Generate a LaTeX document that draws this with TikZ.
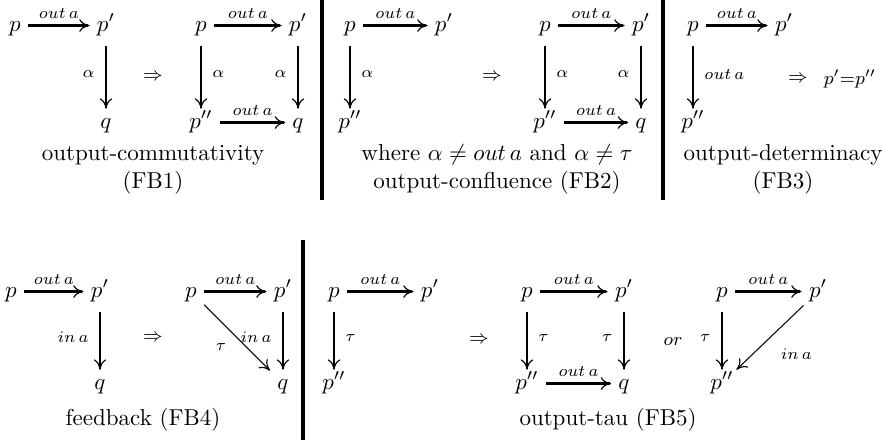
\documentclass[tikz,border=0pt]{standalone}
\usetikzlibrary{arrows.meta}
\begin{document}
\begin{tikzpicture}[x=0.4348pt,y=-0.4348pt,
  st/.style={anchor=base, inner xsep=3pt, inner ysep=1.3pt, text height=1.6ex, text depth=0.5ex},
  tipcm/.tip={Computer Modern Rightarrow[length=4.5pt,width=5.5pt,line width=0.5pt]},
  ar/.style={line width=0.95pt, -tipcm},
  dn/.style={ar, shorten <=3pt},
  dg/.style={line width=0.45pt, -tipcm},
  lab/.style={font=\fontsize{7.5}{9}\selectfont, inner sep=1.5pt},
  toplab/.style={lab, above=1.2pt},
  imp/.style={font=\footnotesize},
  captxt/.style={anchor=base, inner sep=0pt},
  sepbar/.style={line width=1.5pt}]
\path[use as bounding box] (0,0) rectangle (883,440);
% ---------- FB1 ----------
\node[st] (p1) at (15,31) {$p$};
\node[st] (pp1) at (106,31) {$p'$};
\node[st] (q1) at (106,128) {$q$};
\draw[ar] (p1) -- node[toplab] {$out\,a$} (pp1);
\draw[dn] (pp1) -- node[left=3pt,lab] {$\alpha$} (q1);
\node[imp] (i1) at (153,77) {$\Rightarrow$};
\node[st] (p2) at (201,31) {$p$};
\node[st] (pp2) at (298,31) {$p'$};
\node[st] (ppp2) at (201,128) {$p''$};
\node[st] (q2) at (298,128) {$q$};
\draw[ar] (p2) -- node[toplab] {$out\,a$} (pp2);
\draw[dn] (p2) -- node[right=3pt,lab] {$\alpha$} (ppp2);
\draw[dn] (pp2) -- node[left=3pt,lab] {$\alpha$} (q2);
\draw[ar] (ppp2) -- node[toplab] {$out\,a$} (q2);
\node[captxt] (c1a) at (153,160) {output-commutativity};
\node[captxt] (c1b) at (153,188) {(FB1)};
\coordinate (b1t) at (322,0);
\coordinate (b1b) at (322,200);
\draw[sepbar] (b1t) -- (b1b);
% ---------- FB2 ----------
\node[st] (p3) at (350,31) {$p$};
\node[st] (pp3) at (444,31) {$p'$};
\node[st] (ppp3) at (350,128) {$p''$};
\draw[ar] (p3) -- node[toplab] {$out\,a$} (pp3);
\draw[dn] (p3) -- node[right=3pt,lab] {$\alpha$} (ppp3);
\node[imp] (i2) at (492,77) {$\Rightarrow$};
\node[st] (p4) at (545,31) {$p$};
\node[st] (pp4) at (641,31) {$p'$};
\node[st] (ppp4) at (545,128) {$p''$};
\node[st] (q4) at (641,128) {$q$};
\draw[ar] (p4) -- node[toplab] {$out\,a$} (pp4);
\draw[dn] (p4) -- node[right=3pt,lab] {$\alpha$} (ppp4);
\draw[dn] (pp4) -- node[left=3pt,lab] {$\alpha$} (q4);
\draw[ar] (ppp4) -- node[toplab] {$out\,a$} (q4);
\node[captxt] (c2a) at (497,160) {where $\alpha\neq out\,a$ and $\alpha\neq\tau$};
\node[captxt] (c2b) at (497,188) {output-confluence (FB2)};
\coordinate (b2t) at (663,0);
\coordinate (b2b) at (663,200);
\draw[sepbar] (b2t) -- (b2b);
% ---------- FB3 ----------
\node[st] (p5) at (693,31) {$p$};
\node[st] (pp5) at (784,31) {$p'$};
\node[st] (ppp5) at (693,128) {$p''$};
\draw[ar] (p5) -- node[toplab] {$out\,a$} (pp5);
\draw[dn] (p5) -- node[right=3pt,lab] {$out\,a$} (ppp5);
\node[imp] (i3) at (798,79) {$\Rightarrow$};
\node[font=\footnotesize] (eq5) at (850,79) {$p'{=}p''$};
\node[captxt] (c3a) at (783,160) {output-determinacy};
\node[captxt] (c3b) at (783,188) {(FB3)};
% ---------- FB4 ----------
\node[st] (p6) at (11,297) {$p$};
\node[st] (pp6) at (100,297) {$p'$};
\node[st] (q6) at (100,389) {$q$};
\draw[ar] (p6) -- node[toplab] {$out\,a$} (pp6);
\draw[dn] (pp6) -- node[left=3pt,lab] {$in\,a$} (q6);
\node[imp] (i4) at (153,338) {$\Rightarrow$};
\node[st] (p7) at (191,297) {$p$};
\node[st] (pp7) at (283,297) {$p'$};
\node[st] (q7) at (283,389) {$q$};
\draw[ar] (p7) -- node[toplab] {$out\,a$} (pp7);
\draw[dn] (pp7) -- node[left=3pt,lab] {$in\,a$} (q7);
\draw[dg] (p7) -- node[lab,anchor=north east,xshift=-3pt,yshift=-1pt] {$\tau$} (q7);
\node[captxt] (c4) at (143,425) {feedback (FB4)};
\coordinate (b3t) at (303,240);
\coordinate (b3b) at (303,440);
\draw[sepbar] (b3t) -- (b3b);
% ---------- FB5 ----------
\node[st] (p8) at (334,297) {$p$};
\node[st] (pp8) at (430,297) {$p'$};
\node[st] (ppp8) at (334,389) {$p''$};
\draw[ar] (p8) -- node[toplab] {$out\,a$} (pp8);
\draw[dn] (p8) -- node[right=3pt,lab] {$\tau$} (ppp8);
\node[imp] (i5) at (479,340) {$\Rightarrow$};
\node[st] (p9) at (527,297) {$p$};
\node[st] (pp9) at (624,297) {$p'$};
\node[st] (ppp9) at (527,389) {$p''$};
\node[st] (q9) at (624,389) {$q$};
\draw[ar] (p9) -- node[toplab] {$out\,a$} (pp9);
\draw[dn] (p9) -- node[right=3pt,lab] {$\tau$} (ppp9);
\draw[dn] (pp9) -- node[left=3pt,lab] {$\tau$} (q9);
\draw[ar] (ppp9) -- node[toplab] {$out\,a$} (q9);
\node[font=\footnotesize] (or9) at (673,342) {$or$};
\node[st] (p10) at (722,297) {$p$};
\node[st] (pp10) at (818,297) {$p'$};
\node[st] (ppp10) at (722,389) {$p''$};
\draw[ar] (p10) -- node[toplab] {$out\,a$} (pp10);
\draw[dn] (p10) -- node[left=3pt,lab] {$\tau$} (ppp10);
\draw[dg] (pp10) -- node[lab,anchor=north west,xshift=3pt,yshift=-3pt] {$in\,a$} (ppp10);
\node[captxt] (c5) at (608,425) {output-tau (FB5)};
\end{tikzpicture}
\end{document}
